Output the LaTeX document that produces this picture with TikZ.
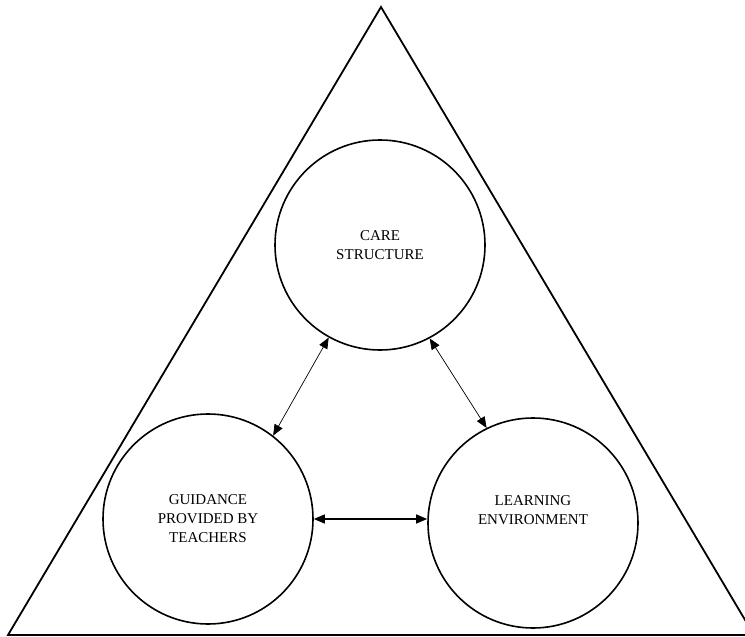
\documentclass[tikz,border=0pt]{standalone}
\usepackage{fontspec}
\setmainfont{Liberation Serif}
\usetikzlibrary{arrows.meta}

\begin{document}
\begin{tikzpicture}[
  x=1pt, y=-1pt,
  factor/.style={circle, draw=black, line width=1.6pt, minimum size=210pt,
                 inner sep=0pt, align=center, font=\fontsize{15}{19}\selectfont},
  frame/.style={draw=black, line width=1.8pt, line join=miter},
  link/.style={draw=black, line width=0.7pt, {Triangle[length=11pt, width=9pt]}-{Triangle[length=11pt, width=9pt]}},
]
\useasboundingbox (0,0) rectangle (745,637);
\clip (0,0) rectangle (745,637);
% ---- outer triangle
\coordinate (apex) at (381, 7);
\coordinate (baseL) at (8, 635);
\coordinate (baseR) at (754, 635);
\draw[frame] (baseL) -- (apex) -- (baseR) -- cycle;
% ---- the three factors
\node[factor] (care) at (380, 245) {CARE\\STRUCTURE};
\node[factor] (guidance) at (208, 519) {GUIDANCE\\PROVIDED BY\\TEACHERS};
\node[factor] (learning) at (533, 523) {LEARNING\\ENVIRONMENT\\[6pt]};
% ---- two-way links between the factors
\draw[link] (care.241.8) -- (guidance.52);
\draw[link] (care.298.6) -- (learning.116.6);
\draw[link, line width=1.2pt] (guidance.0) -- (guidance.0 -| learning.west);
\end{tikzpicture}
\end{document}
